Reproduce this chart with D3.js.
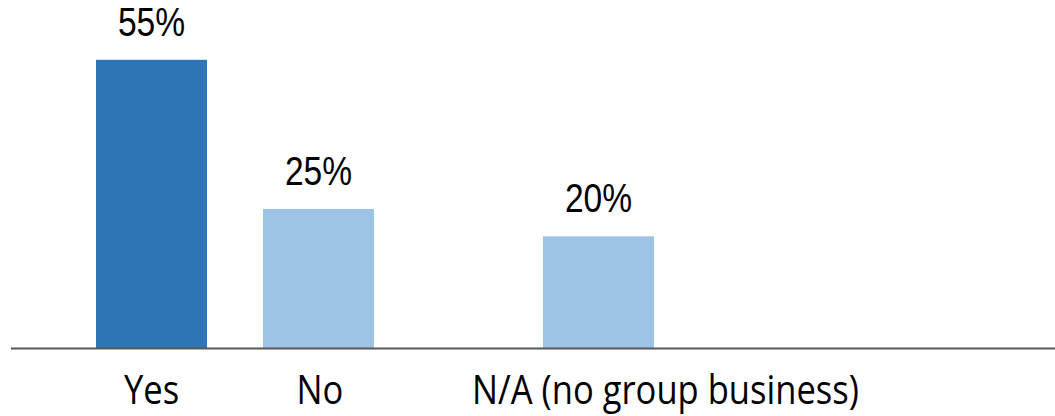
<!DOCTYPE html>
<html>
<head>
<meta charset="utf-8">
<script src="https://cdn.jsdelivr.net/npm/d3@7"></script>
<style>
  body { margin: 0; background: #fff; }
</style>
</head>
<body>
<script>
/*data*/
const categories = ['Yes', 'No', 'N/A (no group business)'];
const shares = [0.516, 0.249, 0.2];          // bar heights
const shareLabels = ['55%', '25%', '20%'];   // labels printed above the bars

/*canvas size*/
const width = 1055;
const height = 416;
const baseY = 348;

const svg = d3.select('body').append('svg')
      .attr('width', width).attr('height', height);

/*x: bar centres (columns are not evenly spaced in the original)*/
const xScale = d3.scaleOrdinal()
      .domain(categories).range([151.5, 318.5, 598.5]);
/*category text centres (the long label sits right of its bar)*/
const labelScale = d3.scaleOrdinal()
      .domain(categories).range([151.5, 320, 665.5]);
const barWidth = 111;

/*y scale*/
const yScale = d3.scaleLinear()
      .domain([0, 0.6]).range([baseY, baseY - 0.6 * 558.5]);

const colors = d3.scaleOrdinal()
      .domain(categories).range(['#2E75B6', '#9DC3E6', '#9DC3E6']);

const data = categories.map((c, i) => ({ cat: c, v: shares[i], label: shareLabels[i] }));

/*bars*/
svg.append('g').selectAll('rect').data(data).enter().append('rect')
   .attr('x', d => xScale(d.cat) - barWidth / 2)
   .attr('y', d => yScale(d.v))
   .attr('width', barWidth)
   .attr('height', d => baseY - yScale(d.v))
   .style('fill', d => colors(d.cat));

/*value labels (narrow)*/
svg.append('g').selectAll('text').data(data).enter().append('text')
   .attr('transform', d => 'translate(' + xScale(d.cat) + ',' + (yScale(d.v) - 24) + ') scale(0.84,1)')
   .attr('text-anchor', 'middle')
   .attr('font-family', '"Liberation Sans", Arial, sans-serif')
   .attr('font-size', 40)
   .attr('fill', '#000')
   .text(d => d.label);

/*axis line*/
svg.append('line')
   .attr('x1', 11).attr('x2', width)
   .attr('y1', baseY + 0.5).attr('y2', baseY + 0.5)
   .attr('stroke', '#595959').attr('stroke-width', 2);

/*category labels*/
svg.append('g').selectAll('text').data(data).enter().append('text')
   .attr('transform', d => 'translate(' + labelScale(d.cat) + ',404) scale(0.96,1.12)')
   .attr('text-anchor', 'middle')
   .attr('font-family', '"Open Sans", sans-serif')
   .attr('font-size', 36)
   .attr('fill', '#000')
   .text(d => d.cat);
</script>
</body>
</html>
